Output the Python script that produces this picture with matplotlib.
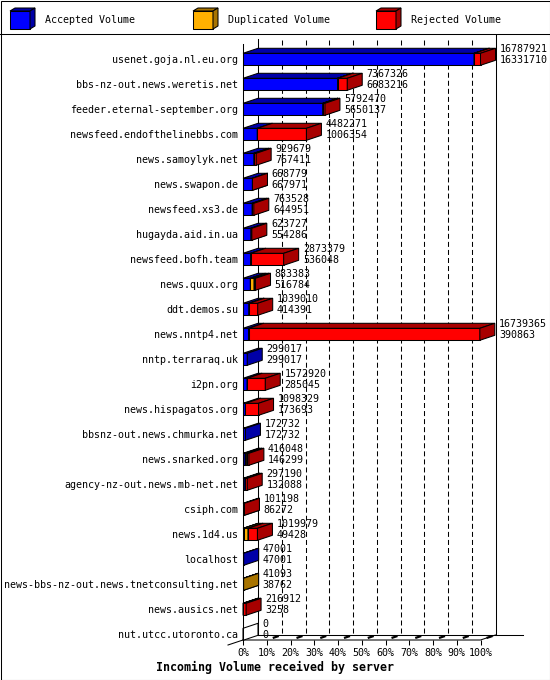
import matplotlib
matplotlib.use("Agg")
import matplotlib.pyplot as plt
from matplotlib.patches import Polygon, Rectangle
from matplotlib.lines import Line2D

plt.rcParams['font.family'] = ['DejaVu Sans Mono', 'DejaVu Sans']
plt.rcParams['lines.scale_dashes'] = False

servers = ["usenet.goja.nl.eu.org", "bbs-nz-out.news.weretis.net",
           "feeder.eternal-september.org", "newsfeed.endofthelinebbs.com",
           "news.samoylyk.net", "news.swapon.de", "newsfeed.xs3.de",
           "hugayda.aid.in.ua", "newsfeed.bofh.team", "news.quux.org",
           "ddt.demos.su", "news.nntp4.net", "nntp.terraraq.uk", "i2pn.org",
           "news.hispagatos.org", "bbsnz-out.news.chmurka.net",
           "news.snarked.org", "agency-nz-out.news.mb-net.net", "csiph.com",
           "news.1d4.us", "localhost",
           "news-bbs-nz-out.news.tnetconsulting.net", "news.ausics.net",
           "nut.utcc.utoronto.ca"]
# first label = total offered volume, second label = accepted volume
offered = [16787921, 7367326, 5792470, 4482271, 929679, 668779, 763528,
           623727, 2873379, 883383, 1039010, 16739365, 299017, 1572920,
           1098329, 172732, 416048, 297190, 101198, 1019979, 47001, 41093,
           216912, 0]
accepted = [16331710, 6683216, 5650137, 1006354, 767411, 667971, 644951,
            554286, 536048, 516784, 414391, 390863, 299017, 285045, 173693,
            172732, 146299, 132088, 86272, 49428, 47001, 38762, 3258, 0]
# estimated from the bar segments
duplicated = [30000, 10000, 4000, 0, 0, 0, 0, 0, 0, 260000, 20000, 0, 0, 0,
              0, 0, 110000, 0, 0, 300000, 0, 2331, 0, 0]
rejected = [426211, 674110, 138333, 3475917, 162268, 808, 118577, 69441,
            2337331, 106599, 604619, 16348502, 0, 1287875, 924636, 0, 159749,
            165102, 14926, 670551, 0, 0, 213654, 0]
pct_ticks = list(range(0, 101, 10))

colors = [("#0000ff", "#0000a8"), ("#ffb000", "#a87400"), ("#ff0000", "#a80000")]
legend_names = ["Accepted Volume", "Duplicated Volume", "Rejected Volume"]

W, H = 550, 680
fig = plt.figure(figsize=(W / 100, H / 100), dpi=100)

# pixel layout of the plot area
X0, PX_PER_PCT = 243, 2.375
ROW0, ROW_H = 59.3, 25.0
left_px, right_px, top_px, bot_px = 243, 523, 35, 640
ax = fig.add_axes([left_px / W, (H - bot_px) / H, (right_px - left_px) / W,
                   (bot_px - top_px) / H])
ax.set_xlim(0, (right_px - X0) / PX_PER_PCT)
ax.set_ylim((bot_px - ROW0) / ROW_H, (top_px - ROW0) / ROW_H)
for s in ax.spines.values():
    s.set_visible(False)

DX = 15 / PX_PER_PCT      # depth in percent units
DY = 5 / ROW_H            # depth in row units
HB = 6 / ROW_H            # half bar height
LW = 0.75

def row(py):
    return (py - ROW0) / ROW_H

floor_f = row(bot_px)
floor_b = row(bot_px - 5)

# back wall
ax.plot([DX, DX], [row(39), floor_b], color="black", lw=LW, zorder=1)
ax.plot([100 + DX, 100 + DX], [row(top_px), floor_b], color="black", lw=LW, zorder=1)
for p in pct_ticks[1:-1]:
    ax.plot([DX + p, DX + p], [row(40), floor_b], color="black", lw=LW,
            ls=(0, (3.6, 2.2)), zorder=1)
# floor
ax.plot([DX, ax.get_xlim()[1]], [floor_b, floor_b], color="black", lw=LW, zorder=1)
ax.plot([0, 100, 100 + DX], [floor_f, floor_f, floor_b], color="black", lw=LW, zorder=1)
ax.plot([0, -DX], [floor_f, floor_f + DY], color="black", lw=LW, zorder=1)
ax.plot([0, 0], [row(44), floor_f], color="black", lw=LW, zorder=5)
for p in pct_ticks[1:]:
    ax.plot([p + 0.4 * DX, p + 0.8 * DX], [floor_f - 0.4 * DY, floor_f - 0.8 * DY],
            color="black", lw=1.6, zorder=1, solid_capstyle="butt")

maxv = max(offered)
for i in range(len(servers)):
    segs = [accepted[i], duplicated[i], rejected[i]]
    start = 0.0
    if offered[i] == 0:
        t, b = i - HB, i + HB
        ax.add_patch(Polygon([(0, t), (DX, t - DY), (DX, b - DY), (0, b)],
                             closed=True, fc="white", ec="black", lw=LW, zorder=3))
    for v, (fc, dc) in zip(segs, colors):
        if v <= 0:
            continue
        w = v / maxv * 100
        x0, x1 = start, start + w
        t, b = i - HB, i + HB
        ax.add_patch(Rectangle((x0, t), w, 2 * HB, fc=fc, ec="black", lw=LW, zorder=3))
        ax.add_patch(Polygon([(x0, t), (x1, t), (x1 + DX, t - DY), (x0 + DX, t - DY)],
                             closed=True, fc=dc, ec="black", lw=LW, zorder=3))
        ax.add_patch(Polygon([(x1, t), (x1 + DX, t - DY), (x1 + DX, b - DY), (x1, b)],
                             closed=True, fc=dc, ec="black", lw=LW, zorder=3))
        start = x1
    end = offered[i] / maxv * 100 + DX
    ax.annotate(str(offered[i]), (end, i), xytext=(3, 7.2), textcoords="offset points",
                ha="left", va="center", fontsize=7.2, zorder=6, annotation_clip=False)
    ax.annotate(str(accepted[i]), (end, i), xytext=(3, -0.6), textcoords="offset points",
                ha="left", va="center", fontsize=7.2, zorder=6, annotation_clip=False)

ax.set_yticks(range(len(servers)))
ax.set_yticklabels(servers, fontsize=7.2)
ax.tick_params(axis="y", length=0, pad=3.6)
ax.set_xticks(pct_ticks)
ax.set_xticklabels([f"{p}%" for p in pct_ticks], fontsize=7.2)
ax.tick_params(axis="x", length=3.6, width=LW, pad=2.0, direction="out")
for ln in ax.get_children():
    if isinstance(ln, Line2D):
        ln.set_clip_on(False)
for p in ax.patches:
    p.set_clip_on(False)

fig.text(275 / W, (H - 667) / H, "Incoming Volume received by server",
         ha="center", va="center", fontsize=8.4, fontweight="bold")

# legend strip
lg = fig.add_axes([0, (H - 34) / H, 1, 34 / H])
lg.set_xlim(0, W)
lg.set_ylim(34, 0)
lg.axis("off")
for lx, name, (fc, dc) in zip([10, 193, 376], legend_names, colors):
    lg.add_patch(Rectangle((lx, 11), 20, 18, fc=fc, ec="black", lw=LW))
    lg.add_patch(Polygon([(lx, 11), (lx + 20, 11), (lx + 25, 8), (lx + 5, 8)],
                         closed=True, fc=dc, ec="black", lw=LW))
    lg.add_patch(Polygon([(lx + 20, 11), (lx + 25, 8), (lx + 25, 26), (lx + 20, 29)],
                         closed=True, fc=dc, ec="black", lw=LW))
    lg.text(lx + 35, 20, name, ha="left", va="center", fontsize=7.2)

fig.add_artist(Line2D([0, 1], [(H - 34) / H] * 2, color="black", lw=LW))
fig.add_artist(Rectangle((0.5 / W, 0.5 / H), (W - 1) / W, (H - 1) / H, fill=False,
                         ec="black", lw=LW, transform=fig.transFigure))

fig.savefig("out.png", dpi=100)
